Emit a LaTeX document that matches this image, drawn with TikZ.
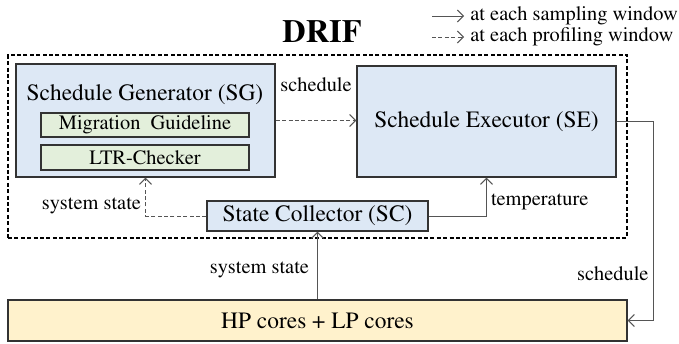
\documentclass[tikz,border=0pt]{standalone}
\usepackage[T1]{fontenc}
\usepackage{times}
\usetikzlibrary{arrows.meta}
\definecolor{boxblue}{RGB}{221,232,245}
\definecolor{boxgreen}{RGB}{227,239,219}
\definecolor{boxyellow}{RGB}{255,242,204}
\definecolor{linegray}{RGB}{85,85,85}
\tikzstyle{module} = [rectangle, draw=black!80, line width=0.7pt, fill=boxblue, inner sep=0pt, font=\fontsize{11.7}{14}\selectfont]
\tikzstyle{part} = [rectangle, draw=black!80, line width=0.7pt, fill=boxgreen, inner sep=0pt, font=\fontsize{10.2}{12}\selectfont]
\tikzstyle{cores} = [rectangle, draw=black!80, line width=0.7pt, fill=boxyellow, inner sep=0pt, font=\fontsize{11.7}{14}\selectfont]
\tikzstyle{drifframe} = [rectangle, draw=black, line width=0.6pt, dash pattern=on 2pt off 1.2pt, inner sep=0pt]
\tikzstyle{msg} = [font=\fontsize{10.2}{12}\selectfont, inner sep=2pt]
\tikzstyle{arrow} = [draw=linegray, line width=0.5pt, -{Straight Barb[length=3pt,width=6pt]}]
\tikzstyle{dasharrow} = [arrow, dash pattern=on 2pt off 1.2pt]

\begin{document}
\begin{tikzpicture}[x=0.5pt, y=-0.5pt]
    \useasboundingbox (0,0) rectangle (679,343);
    \node (drif) [drifframe, minimum width=309.5pt, minimum height=91.5pt] at (317.5,146.5) {};
    \node (title) [font=\fontsize{16.2}{19}\selectfont\bfseries] at (322,31) {DRIF};
    \node (sg) [module, minimum width=129.5pt, minimum height=56.5pt] at (145.5,120.5) {};
    \node (sgname) [font=\fontsize{11.7}{14}\selectfont] at (145,95) {Schedule Generator (SG)};
    \node (guide) [part, minimum width=104pt, minimum height=12pt] at (145,125) {Migration~ Guideline};
    \node (check) [part, minimum width=104pt, minimum height=12.5pt] at (145,157.5) {LTR-Checker};
    \node (se) [module, minimum width=129.5pt, minimum height=55.5pt] at (486.5,121.5) {Schedule Executor (SE)};
    \node (sc) [module, minimum width=110.5pt, minimum height=15pt] at (317.5,216) {State Collector (SC)};
    \node (hp) [cores, minimum width=309.5pt, minimum height=20.5pt] at (317.5,320.5) {HP cores + LP cores};
    \coordinate (turn) at (653,121.5);

    % 图例
    \node (leg1) [msg, anchor=west] at (466,16) {at each sampling window};
    \node (leg2) [msg, anchor=west] at (466,37) {at each profiling window};
    \coordinate (l1) at (432,16);
    \coordinate (l2) at (432,37);
    \draw [arrow] (l1) -- ([xshift=-1pt]leg1.west);
    \draw [dasharrow] (l2) -- ([xshift=-1pt]leg2.west);

    %连接各模块
    \draw [dasharrow] (sg.east) -- node[msg, yshift=18pt]{schedule} (sg.east -| se.west);
    \draw [dasharrow] (sc.west) -| node[msg, pos=0.63, left]{system state} (sg.south);
    \draw [arrow] (sc.east) -| node[msg, pos=0.68, right]{temperature} (se.south);
    \draw [arrow] (hp.north) -- node[msg, pos=0.43, left, xshift=-2pt]{system state} (sc.south);
    \draw [arrow] (se.east) -- (turn) |- node[msg, pos=0.383, left]{schedule} (hp.east);
\end{tikzpicture}
\end{document}
